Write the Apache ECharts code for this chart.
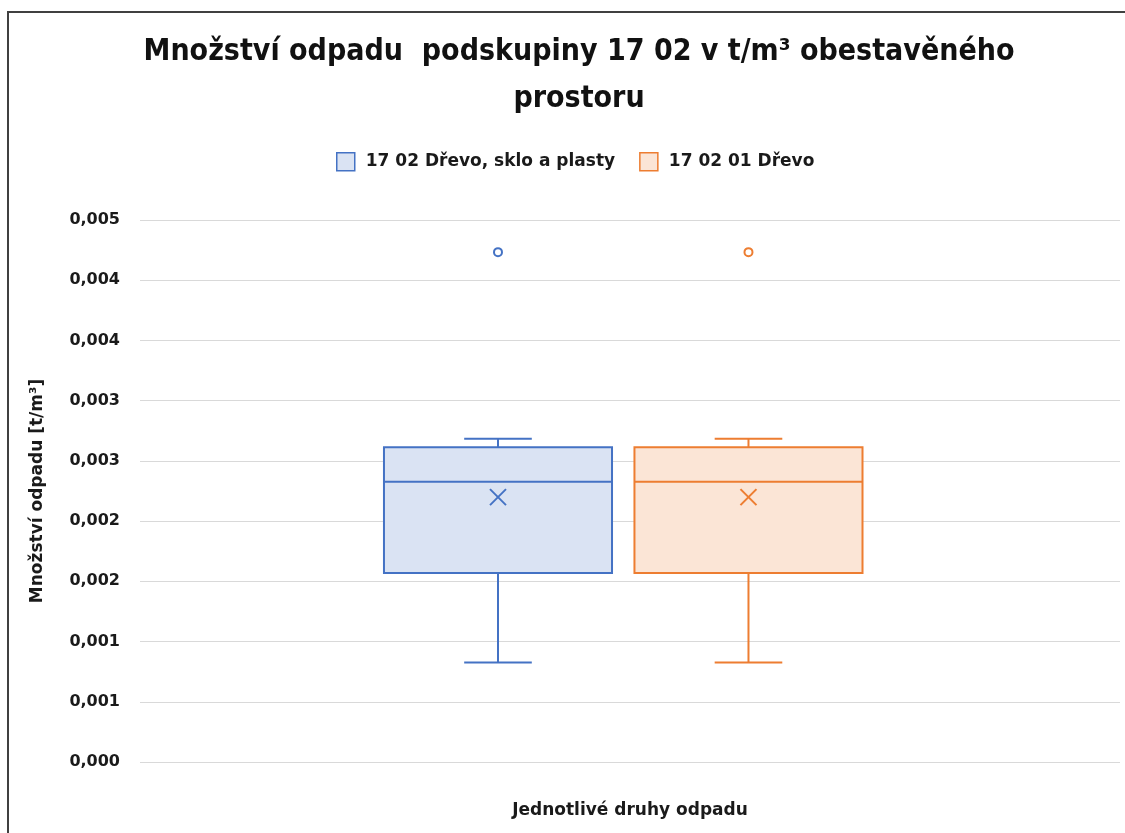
<!DOCTYPE html>
<html><head><meta charset="utf-8">
<script src="https://cdn.jsdelivr.net/npm/echarts@6/dist/echarts.min.js"></script>
<style>html,body{margin:0;padding:0;background:#fff}#c{width:1125px;height:833px}</style>
</head><body><div id="c"></div>
<script>
// ---- data ----
const categories = [''];
const seriesNames = ['17 02 Dřevo, sklo a plasty', '17 02 01 Dřevo'];
const whiskerLow  = [0.000827, 0.000827];
const q1          = [0.00157, 0.00157];
const median      = [0.002327, 0.002327];
const q3          = [0.002614, 0.002614];
const whiskerHigh = [0.002684, 0.002684];
const mean        = [0.002199, 0.002199];
const outliers    = [[0.004233], [0.004233]];
const yTickLabels = ['0,000','0,001','0,001','0,002','0,002','0,003','0,003','0,004','0,004','0,005'];
const yStep = 0.0005;

// ---- styling ----
const strokeColors = ['#4472C4', '#ED7D31'];
const fillColors = ['#DAE3F3', '#FBE5D6'];
const offsets = [-0.1347, 0.1209];
const boxW = 0.2327, capW = 0.069;
const FONT = "'DejaVu Sans', sans-serif";
const TXT = '#1a1a1a';

function boxRender(si) {
  return function (params, api) {
    const cat = api.value(0);
    const band = api.size([1, 0])[0];
    const cx = api.coord([cat, 0])[0] + offsets[si] * band;
    const hw = boxW * band / 2, cw = capW * band / 2;
    const y = v => api.coord([cat, v])[1];
    const yl = y(api.value(1)), yq1 = y(api.value(2)), ym = y(api.value(3)),
          yq3 = y(api.value(4)), yh = y(api.value(5)), ymean = y(api.value(6));
    const st = {stroke: strokeColors[si], lineWidth: 2, fill: null};
    const m = 8;
    return {type: 'group', children: [
      {type: 'rect', shape: {x: cx - hw, y: yq3, width: 2 * hw, height: yq1 - yq3},
        style: {fill: fillColors[si], stroke: strokeColors[si], lineWidth: 2}},
      {type: 'line', shape: {x1: cx - hw, y1: ym, x2: cx + hw, y2: ym}, style: st},
      {type: 'line', shape: {x1: cx, y1: yq3, x2: cx, y2: yh}, style: st},
      {type: 'line', shape: {x1: cx - cw, y1: yh, x2: cx + cw, y2: yh}, style: st},
      {type: 'line', shape: {x1: cx, y1: yq1, x2: cx, y2: yl}, style: st},
      {type: 'line', shape: {x1: cx - cw, y1: yl, x2: cx + cw, y2: yl}, style: st},
      {type: 'line', shape: {x1: cx - m, y1: ymean - m, x2: cx + m, y2: ymean + m}, style: st},
      {type: 'line', shape: {x1: cx - m, y1: ymean + m, x2: cx + m, y2: ymean - m}, style: st}
    ]};
  };
}
function outlierRender(si) {
  return function (params, api) {
    const cat = api.value(0);
    const band = api.size([1, 0])[0];
    const cx = api.coord([cat, 0])[0] + offsets[si] * band;
    const cy = api.coord([cat, api.value(1)])[1];
    return {type: 'circle', shape: {cx: cx, cy: cy, r: 4},
      style: {fill: '#fff', stroke: strokeColors[si], lineWidth: 2}};
  };
}

const series = [];
seriesNames.forEach((name, si) => {
  series.push({
    name: name, type: 'custom', renderItem: boxRender(si), clip: false,
    itemStyle: {color: fillColors[si], borderColor: strokeColors[si]},
    data: categories.map((c, ci) => [ci, whiskerLow[si], q1[si], median[si], q3[si], whiskerHigh[si], mean[si]])
  });
  series.push({
    name: name, type: 'custom', renderItem: outlierRender(si), clip: false,
    data: outliers[si].map(v => [0, v])
  });
});

const chart = echarts.init(document.getElementById('c'), null, {renderer: 'canvas'});
chart.setOption({
  animation: false,
  backgroundColor: '#fff',
  graphic: [{type: 'rect', z: -10, shape: {x: 8, y: 12, width: 1300, height: 1000},
    style: {fill: null, stroke: '#404040', lineWidth: 2}}],
  title: {
    text: 'Množství odpadu  podskupiny 17 02 v t/m³ obestavěného\nprostoru',
    left: 574, top: 24, textAlign: 'center',
    textStyle: {fontFamily: "'Liberation Sans Narrow','DejaVu Sans Condensed',sans-serif", fontSize: 30, fontWeight: 'bold', lineHeight: 47, color: '#111'}
  },
  legend: {
    left: 331, top: 147, itemWidth: 18, itemHeight: 18, itemGap: 24,
    textStyle: {fontFamily: FONT, fontSize: 17, fontWeight: 'bold', color: TXT, padding: [0, 0, 0, 6]},
    data: seriesNames.map((n, si) => ({name: n, icon: 'rect',
      itemStyle: {color: fillColors[si], borderColor: strokeColors[si], borderWidth: 1.5}}))
  },
  grid: {left: 140, right: 5, top: 220, bottom: 71, containLabel: false},
  xAxis: {
    type: 'category', data: categories,
    name: 'Jednotlivé druhy odpadu', nameLocation: 'middle', nameGap: 40,
    nameTextStyle: {fontFamily: FONT, fontSize: 17, fontWeight: 'bold', color: TXT},
    axisLine: {show: false}, axisTick: {show: false}, axisLabel: {show: false}
  },
  yAxis: {
    type: 'value', min: 0, max: yStep * (yTickLabels.length - 1), interval: yStep,
    name: 'Množství odpadu [t/m³]', nameLocation: 'middle', nameGap: 94, nameRotate: 90,
    nameTextStyle: {fontFamily: FONT, fontSize: 17, fontWeight: 'bold', color: TXT},
    axisLine: {show: false}, axisTick: {show: false},
    axisLabel: {margin: 20, fontFamily: FONT, fontSize: 16, fontWeight: 'bold', color: TXT,
      formatter: v => yTickLabels[Math.round(v / yStep)]},
    splitLine: {lineStyle: {color: '#d9d9d9', width: 1}}
  },
  series: series
});
</script></body></html>
